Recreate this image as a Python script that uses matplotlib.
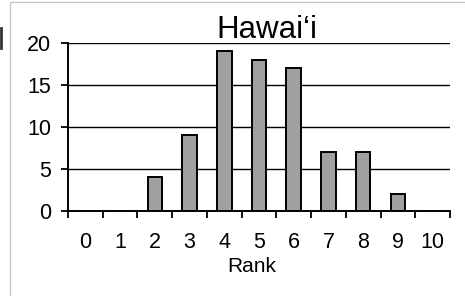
import numpy as np
import matplotlib
matplotlib.use('Agg')
import matplotlib.pyplot as plt
from matplotlib.patches import Rectangle
from matplotlib.lines import Line2D

plt.rcParams['font.family'] = ['Liberation Sans', 'DejaVu Sans']

# datos
ranks = [0, 1, 2, 3, 4, 5, 6, 7, 8, 9, 10]
counts = [0, 0, 4, 9, 19, 18, 17, 7, 7, 2, 0]
yticks = [0, 5, 10, 15, 20]

fig = plt.figure(figsize=(4.65, 2.96), dpi=100)

# marco gris de la imagen
fig.patches.append(Rectangle((10 / 465, -0.1), 1.0, 1 - 2 / 296 + 0.1,
                             transform=fig.transFigure, fill=False,
                             edgecolor='#c8c8c8', linewidth=1.0))
fig.lines.append(Line2D([1 / 465, 1 / 465], [1 - 28 / 296, 1 - 48 / 296],
                        transform=fig.transFigure, color='#333333', linewidth=2))

ax = fig.add_axes([68 / 465, 1 - 211 / 296, 382 / 465, 168 / 296])

x = np.arange(len(ranks))
ax.bar(x, counts, width=0.42, color='#a0a0a0', edgecolor='black',
       linewidth=1.4, zorder=3)

ax.set_xlim(-0.5, len(ranks) - 0.5)
ax.set_ylim(0, 20)
ax.set_yticks(yticks)
ax.yaxis.grid(True, color='black', linewidth=1.0, zorder=0)

ax.set_xticks(x)
ax.set_xticklabels([str(r) for r in ranks])
ax.set_xticks(np.arange(-0.5, len(ranks)), minor=True)
ax.tick_params(axis='x', which='major', length=0, pad=15, labelsize=15.5)
ax.tick_params(axis='x', which='minor', length=5, width=1.3, direction='out')
ax.tick_params(axis='y', length=5, width=1.3, direction='out', pad=7, labelsize=15.5)

for s in ['top', 'right']:
    ax.spines[s].set_visible(False)
for s in ['left', 'bottom']:
    ax.spines[s].set_linewidth(1.4)

fig.text(267 / 465, 1 - 38 / 296, 'Hawai\u2018i', fontsize=22.5,
         ha='center', va='baseline')
fig.text(252 / 465, 1 - 272 / 296, 'Rank', fontsize=15,
         ha='center', va='baseline')

fig.savefig('out.png', dpi=100)
